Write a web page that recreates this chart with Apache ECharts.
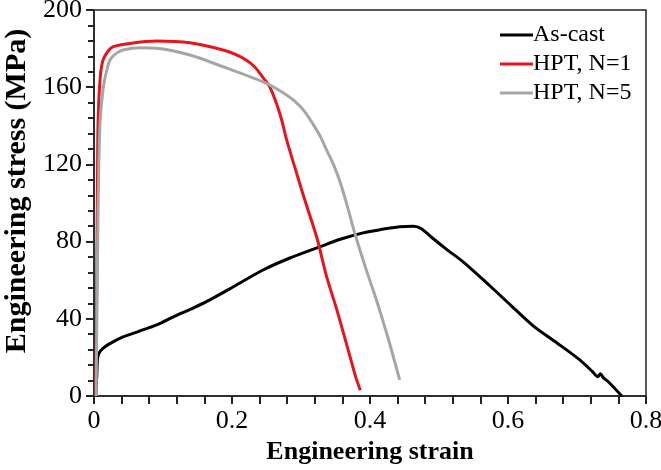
<!DOCTYPE html>
<html><head><meta charset="utf-8">
<script src="https://cdn.jsdelivr.net/npm/echarts@6/dist/echarts.min.js"></script>
<style>html,body{margin:0;padding:0;background:#fff}#c{width:661px;height:470px}</style>
</head><body><div id="c"></div>
<script>
const seriesNames = ['As-cast', 'HPT, N=1', 'HPT, N=5'];
const xTicks = [0, 0.2, 0.4, 0.6, 0.8];
const yTicks = [0, 40, 80, 120, 160, 200];

const asCastStrain = [0.002,0.004,0.005,0.007,0.013,0.025,0.042,0.065,0.091,0.115,0.14,0.163,0.202,0.245,0.284,0.328,0.357,0.39,0.415,0.443,0.463,0.474,0.49,0.511,0.535,0.574,0.604,0.636,0.671,0.704,0.723,0.73,0.734,0.738,0.745,0.765];
const asCastStress = [0,10,19,22,24.7,27.5,30.6,33.5,36.8,41,45,48.9,56.6,65.3,71.5,77.4,81.2,84.5,86.2,87.7,88,86.8,82,76,69.5,57,47,36.5,27.5,18.7,12.4,10,11.5,9.5,7.5,0];

const hpt1Strain = [0.003,0.004,0.005,0.006,0.009,0.013,0.02,0.028,0.052,0.091,0.139,0.187,0.205,0.221,0.233,0.245,0.255,0.265,0.272,0.279,0.294,0.306,0.323,0.337,0.352,0.371,0.38,0.386];
const hpt1Stress = [0,60,110,143,165,174,178.5,181,182.7,183.9,183,179.3,177,174,170.5,165,160,151,143,133,115,101,82,62,44.6,20.4,9,3];

const hpt5Strain = [0.003,0.005,0.007,0.009,0.0135,0.018,0.023,0.032,0.042,0.067,0.091,0.139,0.187,0.25,0.27,0.29,0.305,0.318,0.328,0.337,0.347,0.357,0.367,0.378,0.394,0.41,0.427,0.443];
const hpt5Stress = [0,70,120,143,160,168,174,177.5,179.3,180.5,180.2,176.7,170.6,162,158,153,147.5,140.5,134.5,127.5,120,110.5,98.5,84.3,66,49,29,8.3];

const zip = (a, b) => a.map((v, i) => [v, b[i]]);
const colors = ['#000000', '#e8141b', '#a6a6a6'];
const font = 'Liberation Serif';
const axisColor = '#222';

const chart = echarts.init(document.getElementById('c'));
chart.setOption({
  animation: false,
  grid: { left: 94, right: 15, top: 10, bottom: 74, containLabel: false, outerBoundsMode: 'none', show: true, borderColor: axisColor, borderWidth: 1.5 },
  legend: {
    left: 495, top: 18, orient: 'vertical', itemWidth: 33, itemHeight: 3, icon: 'rect', itemGap: 5,
    textStyle: { fontFamily: font, fontSize: 24, color: '#000', padding: [0, 0, 0, -5] },
    data: seriesNames
  },
  xAxis: {
    type: 'value', min: 0, max: 0.8, interval: 0.2,
    name: 'Engineering strain', nameLocation: 'middle', nameGap: 43,
    nameTextStyle: { fontFamily: font, fontSize: 26, fontWeight: 'bold', color: '#000' },
    axisLine: { show: true, onZero: false, lineStyle: { color: axisColor, width: 1.5 } },
    axisTick: { show: true, inside: false, length: 8, lineStyle: { color: axisColor, width: 2 } },
    minorTick: { show: true, splitNumber: 5, length: 8, lineStyle: { color: axisColor, width: 2 } },
    splitLine: { show: false },
    minorSplitLine: { show: false },
    axisLabel: { fontFamily: font, fontSize: 26, color: '#000', margin: 12,
      formatter: v => xTicks.includes(+v.toFixed(2)) ? String(+v.toFixed(1)) : '' }
  },
  yAxis: {
    type: 'value', min: 0, max: 200, interval: 40,
    name: 'Engineering stress (MPa)', nameLocation: 'middle', nameGap: 59,
    nameTextStyle: { fontFamily: font, fontSize: 30, fontWeight: 'bold', color: '#000', padding: [0, 0, 0, 24] },
    axisLine: { show: true, onZero: false, lineStyle: { color: axisColor, width: 1.5 } },
    axisTick: { show: true, inside: false, length: 8, lineStyle: { color: axisColor, width: 2 } },
    minorTick: { show: true, splitNumber: 5, length: 6, lineStyle: { color: axisColor, width: 2 } },
    splitLine: { show: false },
    minorSplitLine: { show: false },
    axisLabel: { fontFamily: font, fontSize: 26, color: '#000', margin: 12,
      formatter: v => yTicks.includes(v) ? String(v) : '' }
  },
  series: [
    { name: seriesNames[0], type: 'line', data: zip(asCastStrain, asCastStress), smooth: 0.3, showSymbol: false, lineStyle: { color: colors[0], width: 3 }, itemStyle: { color: colors[0] } },
    { name: seriesNames[1], type: 'line', data: zip(hpt1Strain, hpt1Stress), smooth: 0.3, showSymbol: false, lineStyle: { color: colors[1], width: 3 }, itemStyle: { color: colors[1] } },
    { name: seriesNames[2], type: 'line', data: zip(hpt5Strain, hpt5Stress), smooth: 0.3, showSymbol: false, lineStyle: { color: colors[2], width: 3 }, itemStyle: { color: colors[2] } }
  ]
});
</script></body></html>
